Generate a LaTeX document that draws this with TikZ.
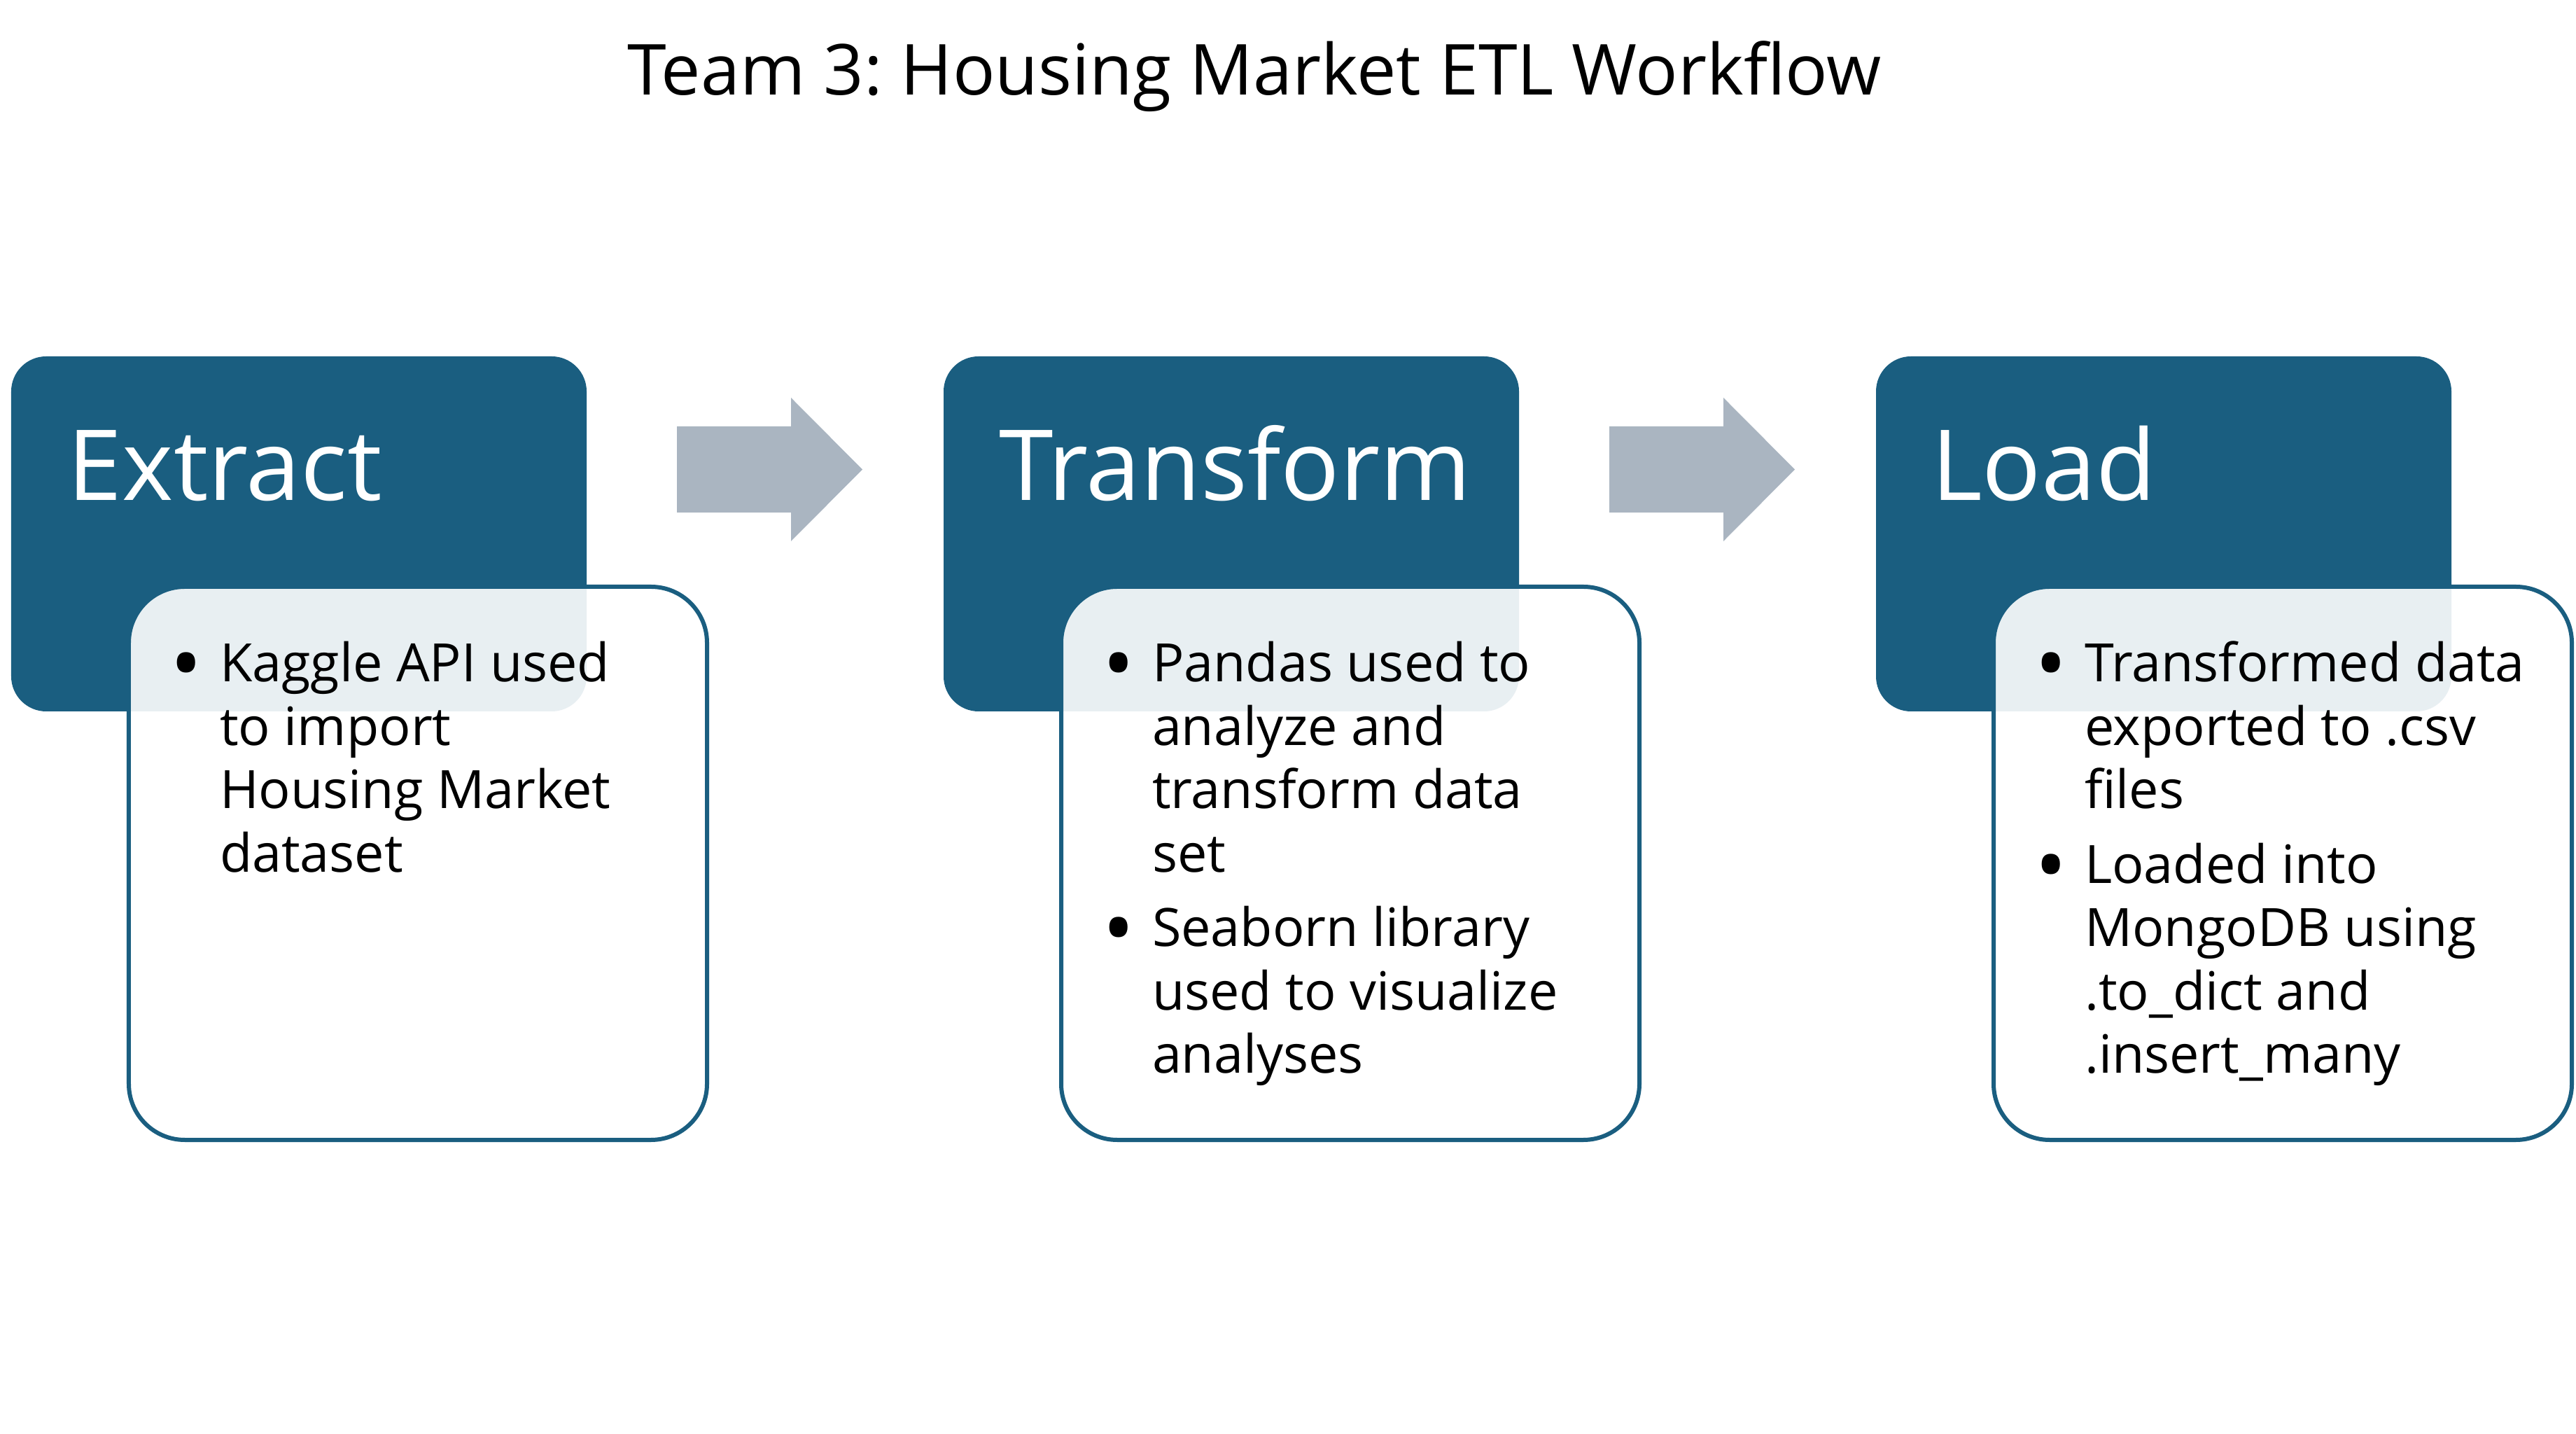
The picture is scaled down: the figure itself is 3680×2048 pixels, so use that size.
\documentclass[tikz,border=0pt]{standalone}
\usepackage{fontspec}
\setmainfont{Open Sans}
\frenchspacing
\definecolor{dk}{HTML}{1A5E80}
\definecolor{arr}{HTML}{AAB5C1}
\newcommand{\bdot}{\raisebox{-3.4pt}{\scalebox{1.6}{•}}}
\newcommand{\bitem}[1]{\hbox{\llap{\bdot\hskip 5pt}#1}}
\newcommand{\bline}[1]{\hbox{#1}}
\newcommand{\bgap}{\vskip 3.2pt}
\begin{document}
\begin{tikzpicture}[x=0.2pt,y=-0.2pt,
  darkbox/.style={draw=none, fill=dk, rounded corners=10pt, minimum width=164.4pt, minimum height=101.4pt, inner sep=0pt},
  whitebox/.style={draw=dk, line width=1.2pt, fill=white, fill opacity=0.9, rounded corners=16pt, minimum width=165.2pt, minimum height=158pt, inner sep=0pt},
  headtext/.style={text=white, font=\fontsize{28}{30}\selectfont, anchor=base west, inner sep=0pt},
  bodytext/.style={text=black, font=\fontsize{15.1}{18.1}\selectfont, anchor=base west, inner sep=0pt},
  titletext/.style={font=\fontsize{20.1}{24}\selectfont, anchor=base, inner sep=0pt},
  blockarrow/.style={fill=arr, draw=none}]
\useasboundingbox (0,0) rectangle (3680,2048);

\node[titletext] (title) at (1792,136) {Team 3: Housing Market ETL Workflow};

% Extract
\node[darkbox] (exthead) at (427,762.5) {};
\node[whitebox] (extbody) at (597,1233) {};
\node[headtext] (extlabel) at (96,715) {Extract};
\node[bodytext] (exttext) at (313,974) {\vtop{\baselineskip=18.1pt\lineskip=0pt
  \bitem{Kaggle API used}
  \bline{to import}
  \bline{Housing Market}
  \bline{dataset}}};

% Transform
\node[darkbox] (trhead) at (1759,762.5) {};
\node[whitebox] (trbody) at (1929,1233) {};
\node[headtext] (trlabel) at (1426,715) {Transform};
\node[bodytext] (trtext) at (1645,974) {\vtop{\baselineskip=18.1pt\lineskip=0pt
  \bitem{Pandas used to}
  \bline{analyze and}
  \bline{transform data}
  \bline{set}
  \bgap
  \bitem{Seaborn library}
  \bline{used to visualize}
  \bline{analyses}}};

% Load
\node[darkbox] (ldhead) at (3091,762.5) {};
\node[whitebox] (ldbody) at (3261,1233) {};
\node[headtext] (ldlabel) at (2758,715) {Load};
\node[bodytext] (ldtext) at (2977,974) {\vtop{\baselineskip=18.1pt\lineskip=0pt
  \bitem{Transformed data}
  \bline{exported to .csv}
  \bline{files}
  \bgap
  \bitem{Loaded into}
  \bline{MongoDB using}
  \bline{.to\_dict and}
  \bline{.insert\_many}}};

% Block arrows
\coordinate (a1) at (967,670.5);
\fill[blockarrow] (a1) ++(0,-61.5) -- ++(163,0) -- ++(0,-41) -- ++(102,102.5) -- ++(-102,102.5) -- ++(0,-41) -- ++(-163,0) -- cycle;
\coordinate (a2) at (2299,670.5);
\fill[blockarrow] (a2) ++(0,-61.5) -- ++(163,0) -- ++(0,-41) -- ++(102,102.5) -- ++(-102,102.5) -- ++(0,-41) -- ++(-163,0) -- cycle;
\end{tikzpicture}
\end{document}
